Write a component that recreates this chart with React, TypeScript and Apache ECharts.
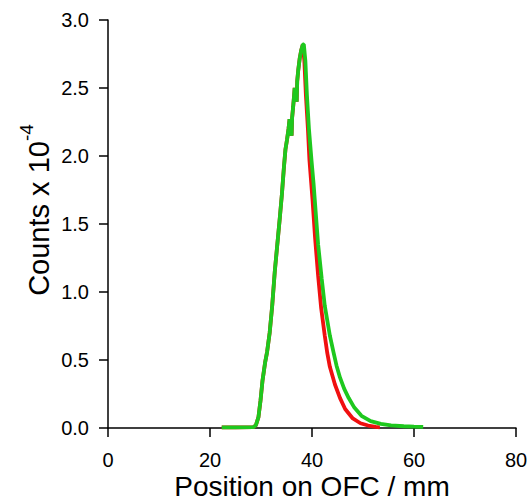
import React, { useEffect, useRef } from "react";
import * as echarts from "echarts";

// Position on OFC (mm) and counts (x 1e-4) for the green trace
const greenX = [22.3, 25, 28.5, 29.0, 29.5, 29.9, 30.3, 30.8, 31.2, 31.7, 32.2, 32.7, 33.2, 33.7, 34.1, 34.5, 34.8, 35.1, 35.4, 35.6, 35.8, 36.0, 36.1, 36.3, 36.5, 36.6, 36.8, 37.0, 37.1, 37.3, 37.6, 37.9, 38.2, 38.4, 38.7, 39.0, 39.4, 39.9, 40.3, 40.6, 41.2, 41.9, 42.5, 43.5, 44.2, 44.8, 45.5, 46.3, 47.2, 48.3, 49.7, 51.5, 53.5, 55.5, 58, 60, 61.8];
const greenY = [0.005, 0.005, 0.006, 0.02, 0.08, 0.2, 0.35, 0.48, 0.56, 0.7, 0.9, 1.15, 1.35, 1.55, 1.72, 1.92, 2.05, 2.12, 2.2, 2.27, 2.2, 2.15, 2.28, 2.36, 2.45, 2.5, 2.45, 2.4, 2.55, 2.63, 2.72, 2.78, 2.82, 2.82, 2.7, 2.45, 2.2, 1.97, 1.8, 1.65, 1.35, 1.1, 0.9, 0.68, 0.56, 0.46, 0.37, 0.29, 0.22, 0.15, 0.09, 0.05, 0.03, 0.02, 0.013, 0.01, 0.008];

// Red trace
const redX = [22.3, 25, 28.5, 29.0, 29.5, 29.9, 30.3, 30.8, 31.2, 31.7, 32.2, 32.7, 33.2, 33.7, 34.1, 34.5, 34.8, 35.1, 35.4, 35.6, 35.8, 36.0, 36.1, 36.3, 36.5, 36.6, 36.8, 37.0, 37.1, 37.3, 37.6, 37.9, 38.2, 38.5, 38.8, 39.2, 39.5, 40.1, 40.6, 41.2, 41.8, 42.5, 43.0, 43.5, 44.5, 45.5, 46.5, 48, 49.5, 51, 52.5, 53.3];
const redY = [0.005, 0.005, 0.006, 0.02, 0.08, 0.2, 0.35, 0.48, 0.56, 0.7, 0.9, 1.15, 1.35, 1.55, 1.72, 1.92, 2.05, 2.12, 2.2, 2.27, 2.2, 2.15, 2.28, 2.36, 2.45, 2.5, 2.45, 2.4, 2.55, 2.63, 2.72, 2.78, 2.82, 2.7, 2.45, 2.2, 1.97, 1.68, 1.4, 1.12, 0.88, 0.68, 0.55, 0.45, 0.32, 0.22, 0.14, 0.07, 0.035, 0.018, 0.008, 0.005];

const xTicks = { min: 0, max: 80, interval: 20 };
const yTicks = { min: 0, max: 3, interval: 0.5 };

const FONT = "'Liberation Sans', Arial, sans-serif";

function pairs(xs: number[], ys: number[]) {
  return xs.map((x, i) => [x, ys[i]]);
}

export default function App() {
  const ref = useRef<HTMLDivElement>(null);
  useEffect(() => {
    if (!ref.current) return;
    const chart = echarts.init(ref.current, undefined, { renderer: "svg" });
    chart.setOption({
      animation: false,
      backgroundColor: "#ffffff",
      grid: {
        left: 108,
        right: 13,
        top: 20,
        bottom: 74,
        containLabel: false,
        outerBoundsMode: "none",
      },
      xAxis: {
        type: "value",
        min: xTicks.min,
        max: xTicks.max,
        interval: xTicks.interval,
        name: "Position on OFC / mm",
        nameLocation: "middle",
        nameGap: 44,
        nameMoveOverlap: false,
        nameTextStyle: { fontFamily: FONT, fontSize: 28, lineHeight: 28, color: "#000" },
        axisLine: { show: true, onZero: false, lineStyle: { color: "#000", width: 1.5 } },
        axisTick: { show: true, length: 9, lineStyle: { color: "#000", width: 1.5 } },
        axisLabel: { fontFamily: FONT, fontSize: 20, lineHeight: 20, color: "#000", margin: 22 },
        splitLine: { show: false },
      },
      yAxis: {
        type: "value",
        min: yTicks.min,
        max: yTicks.max,
        interval: yTicks.interval,
        name: "{a|Counts x 10}{b|-4}",
        nameLocation: "middle",
        nameRotate: 90,
        nameGap: 55,
        nameMoveOverlap: false,
        nameTextStyle: {
          fontFamily: FONT,
          color: "#000",
          padding: [0, 0, 0, 28],
          rich: {
            a: { fontFamily: FONT, fontSize: 29, color: "#000", lineHeight: 36, verticalAlign: "bottom" },
            b: { fontFamily: FONT, fontSize: 19, color: "#000", lineHeight: 36, verticalAlign: "top" },
          },
        },
        axisLine: { show: true, lineStyle: { color: "#000", width: 1.5 } },
        axisTick: { show: true, length: 9, lineStyle: { color: "#000", width: 1.5 } },
        axisLabel: {
          fontFamily: FONT,
          fontSize: 20,
          color: "#000",
          margin: 19,
          formatter: (v: number) => v.toFixed(1),
        },
        splitLine: { show: false },
      },
      series: [
        {
          type: "line",
          data: pairs(redX, redY),
          showSymbol: false,
          symbol: "none",
          lineStyle: { color: "#f01010", width: 3.8 },
          z: 2,
        },
        {
          type: "line",
          data: pairs(greenX, greenY),
          showSymbol: false,
          symbol: "none",
          lineStyle: { color: "#1ec81e", width: 3.8 },
          z: 3,
        },
      ],
    });
    return () => chart.dispose();
  }, []);
  return (
    <div
      ref={ref}
      style={{ position: "fixed", left: 0, top: 0, width: 529, height: 502 }}
    />
  );
}
